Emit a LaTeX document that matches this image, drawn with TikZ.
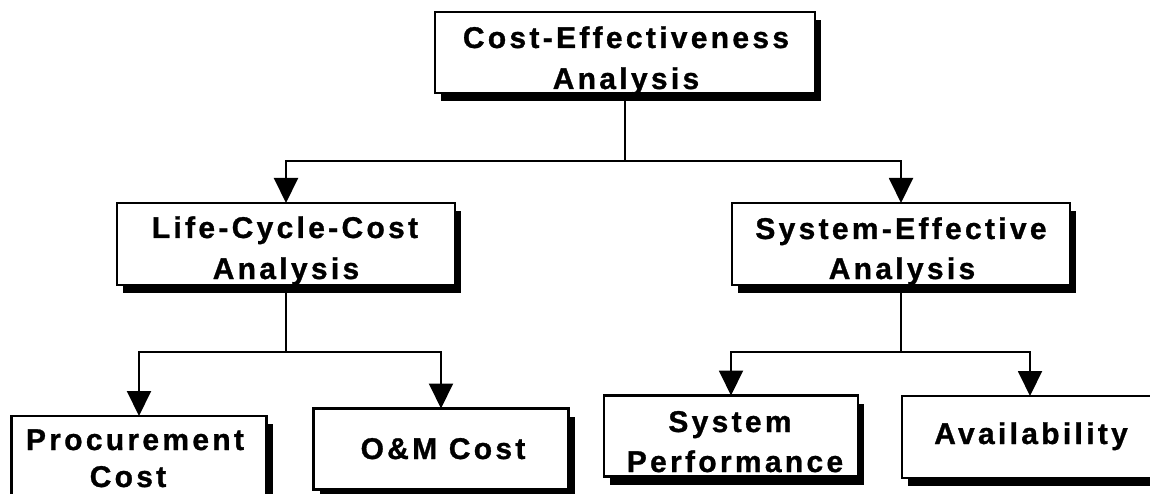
\documentclass[tikz,border=0pt]{standalone}
\usepackage{fontspec}
\newfontfamily\boxfont{Liberation Sans}[LetterSpace=11,FakeBold=1]
\usetikzlibrary{arrows.meta,shadows}
\begin{document}
\begin{tikzpicture}[x=1pt,y=-1pt,
  box/.style={draw, line width=2.5pt, fill=white, inner sep=0pt, outer sep=0pt,
    minimum height=81pt,
    drop shadow={shadow xshift=6pt, shadow yshift=-8pt, fill=black, opacity=1}},
  lbl/.style={anchor=base, inner sep=0pt, font=\boxfont\bfseries\fontsize{30}{36}\selectfont},
  conn/.style={line width=2pt, -{Triangle[width=24pt,length=25pt]}}]
\useasboundingbox[fill=white] (0,0) rectangle (1150,494);

% boxes
\node[box, minimum width=380pt] (top) at (625,52.5) {};
\node[box, minimum width=338pt, minimum height=82pt] (lcc) at (286,244) {};
\node[box, minimum width=338pt, minimum height=82pt] (sea) at (901,244) {};
\node[box, minimum width=255pt, minimum height=84pt] (proc) at (139,458) {};
\node[box, minimum width=255pt] (om) at (441,449) {};
\node[box, minimum width=254pt] (sp) at (731,436) {};
\node[box, minimum width=256pt, minimum height=82pt] (av) at (1030,437) {};

% texts
\node[lbl] (topA) at (626,48) {Cost-Effectiveness};
\node[lbl] (topB) at (626,89) {Analysis};
\node[lbl] (lccA) at (285,238) {Life-Cycle-Cost};
\node[lbl] (lccB) at (286,279) {Analysis};
\node[lbl] (seaA) at (901,239) {System-Effective};
\node[lbl] (seaB) at (902,279) {Analysis};
\node[lbl] (procA) at (135,450) {Procurement};
\node[lbl] (procB) at (128,487) {Cost};
\node[lbl] (omA) at (443,459) {O\&M Cost};
\node[lbl] (spA) at (730,432) {System};
\node[lbl] (spB) at (735,472) {Performance};
\node[lbl] (avA) at (1031,444) {Availability};

% buses
\coordinate (busA) at (0,161);
\coordinate (busB) at (0,352);

% connectors
\draw[conn] (top.south) -- (top.south |- busA) -| (lcc.north);
\draw[conn] (top.south |- busA) -| (sea.north);
\draw[conn] (lcc.south) -- (lcc.south |- busB) -| (proc.north);
\draw[conn] (lcc.south |- busB) -| (om.north);
\draw[conn] (sea.south) -- (sea.south |- busB) -| (sp.north);
\draw[conn] (sea.south |- busB) -| (av.north);
\end{tikzpicture}
\end{document}
